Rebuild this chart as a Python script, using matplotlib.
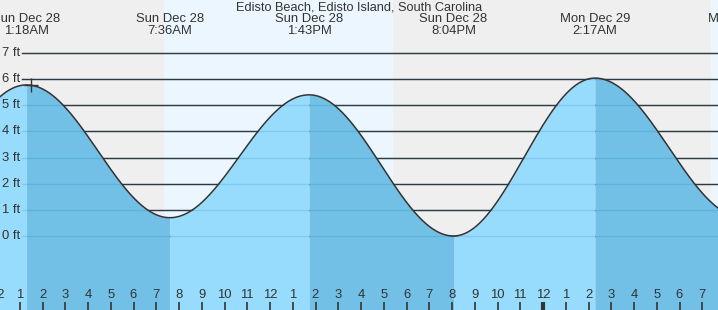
#!/usr/bin/env python3
"""
Tide chart for Edisto Beach, Edisto Island, South Carolina
"""

import numpy as np
import matplotlib.pyplot as plt
from matplotlib.transforms import blended_transform_factory

# tide extremes, hours counted from Sun Dec 28 00:00
tide_hours = [-5.0, 1.3, 7.6, 13.717, 20.067, 26.283, 32.8]
tide_feet = [0.3, 5.78, 0.7, 5.4, 0.0, 6.04, 0.7]
tide_days = ['Sat Dec 27', 'Sun Dec 28', 'Sun Dec 28', 'Sun Dec 28',
             'Sun Dec 28', 'Mon Dec 29', 'Mon Dec 29']
tide_times = ['7:00PM', '1:18AM', '7:36AM', '1:43PM', '8:04PM', '2:17AM', '8:48AM']

# sunrise / sunset, same hour scale
day_spans = [(7.33, 17.42), (31.37, 43.4)]

now_hour = 1.48
hour_ticks = list(range(0, 32))
ft_ticks = list(range(0, 8))

title = 'Edisto Beach, Edisto Island, South Carolina'

NIGHT = '#efefef'
DAY = '#ecf6fe'
RISING = '#97dcfd'
FALLING = '#72c0e6'
INK = '#333333'

W, H = 718, 310
x0, x1 = 3 / 22.75, (W + 3) / 22.75
y0, y1 = (236 - H) / 26.14, 236 / 26.14


def tide_curve(t):
    """cosine interpolation between consecutive extremes"""
    t = np.asarray(t, dtype=float)
    out = np.zeros_like(t)
    for i in range(len(tide_hours) - 1):
        ta, tb = tide_hours[i], tide_hours[i + 1]
        ha, hb = tide_feet[i], tide_feet[i + 1]
        m = (t >= ta) & (t <= tb)
        f = (1 - np.cos(np.pi * (t[m] - ta) / (tb - ta))) / 2
        out[m] = ha + (hb - ha) * f
    return out


plt.rcParams['font.family'] = ['Liberation Sans', 'DejaVu Sans']

fig = plt.figure(figsize=(W / 100, H / 100), dpi=100)
ax = fig.add_axes([0, 0, 1, 1])
ax.set_xlim(x0, x1)
ax.set_ylim(y0, y1)
ax.axis('off')

# night / day background
ax.axvspan(x0, x1, color=NIGHT, zorder=0)
for a, b in day_spans:
    ax.axvspan(a, b, color=DAY, zorder=0.5, lw=0)

# grid lines + labels
for v in ft_ticks:
    ax.axhline(v, xmin=22 / W, xmax=1, color=INK, lw=1.0, zorder=1)
    ax.axhline(v, xmin=22 / W, xmax=1, color=(0, 0.39, 0.63), alpha=0.15,
               lw=1.0, zorder=3)
    ax.text(20 / W, v, f'{v} ft', transform=blended_transform_factory(ax.transAxes, ax.transData),
            ha='right', va='center', fontsize=9.4, color=INK, zorder=4)

# tide fill, light when rising, dark when falling
for i in range(len(tide_hours) - 1):
    ta, tb = tide_hours[i], tide_hours[i + 1]
    tt = np.linspace(ta, tb, 200)
    col = RISING if tide_feet[i + 1] > tide_feet[i] else FALLING
    ax.fill_between(tt, y0, tide_curve(tt), color=col, lw=0, zorder=2)

tt = np.linspace(tide_hours[0], tide_hours[-1], 2000)
ax.plot(tt, tide_curve(tt), color=INK, lw=1.1, zorder=4)
ax.plot([now_hour], tide_curve([now_hour]), marker='+', ms=10, mew=1.0,
        color=INK, zorder=5)

# extreme labels along the top
bt = blended_transform_factory(ax.transData, ax.transAxes)
for h, d, t in zip(tide_hours, tide_days, tide_times):
    ax.text(h, 1 - 19 / H, d, transform=bt, ha='center', va='center',
            fontsize=9.4, color=INK, zorder=6)
    ax.text(h, 1 - 31 / H, t, transform=bt, ha='center', va='center',
            fontsize=9.4, color=INK, zorder=6)

fig.text(0.5, 1 - 7 / H, title, ha='center', va='center', fontsize=9.2, color=INK)

# hour ticks along the bottom
for h in hour_ticks:
    lab = h % 12 or 12
    ax.text(h, 1 - 295 / H, str(lab), transform=bt, ha='center', va='center',
            fontsize=9.4, color=INK, zorder=6)
    ax.vlines(h, 0, 8 / H, transform=bt, color=INK,
              lw=3 if h % 24 == 0 else 1.2, zorder=6)

fig.savefig('out.png', dpi=100)
plt.close(fig)
